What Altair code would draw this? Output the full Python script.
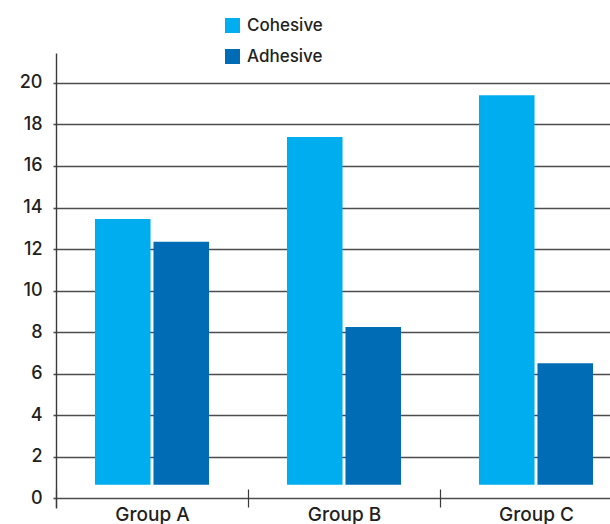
import altair as alt
import pandas as pd

# Category and series definitions
groups = ["Group A", "Group B", "Group C"]
series = ["Cohesive", "Adhesive"]
series_colors = ["#00AEEF", "#006CB5"]

# Bar heights per group
cohesive = [13.45, 17.4, 19.4]
adhesive = [12.35, 8.25, 6.5]

# Bars rise from a small common base rather than from zero
bar_base = 0.65

# Y axis tick values
y_ticks = [0, 2, 4, 6, 8, 10, 12, 14, 16, 18, 20]

rows = []
for g, c, a in zip(groups, cohesive, adhesive):
    rows.append({"group": g, "series": "Cohesive", "value": c, "base": bar_base})
    rows.append({"group": g, "series": "Adhesive", "value": a, "base": bar_base})
df = pd.DataFrame(rows)

FONT = "Inter"
WEIGHT = 500
TEXT = "#231F20"
GRID = "#4D4D4D"

chart = alt.Chart(df).mark_bar().encode(
    x=alt.X(
        "group:N",
        sort=groups,
        scale=alt.Scale(range=[0, 576], paddingInner=0, paddingOuter=0),
        axis=alt.Axis(
            title=None,
            domain=False,
            tickBand="extent",
            offset=-19,
            tickSize=18,
            tickColor="#3A3A3A",
            tickWidth=1.2,
            labelPadding=-2,
            labelAngle=0,
            labelFont=FONT,
            labelFontWeight=WEIGHT,
            labelFontSize=19,
            labelColor=TEXT,
        ),
    ),
    xOffset=alt.XOffset(
        "series:N",
        sort=series,
        scale=alt.Scale(paddingInner=0.05, paddingOuter=0.667),
    ),
    y=alt.Y(
        "value:Q",
        scale=alt.Scale(domain=[-0.47, 21.44], nice=False, zero=False),
        axis=alt.Axis(
            title=None,
            values=y_ticks,
            grid=True,
            gridColor=GRID,
            gridWidth=1.6,
            tickSize=3,
            tickColor=GRID,
            tickWidth=1.6,
            domainColor="#3A3A3A",
            domainWidth=1.4,
            labelPadding=11,
            labelFont=FONT,
            labelFontWeight=WEIGHT,
            labelFontSize=18,
            labelColor=TEXT,
        ),
    ),
    y2="base:Q",
    color=alt.Color(
        "series:N",
        sort=series,
        scale=alt.Scale(domain=series, range=series_colors),
        legend=alt.Legend(
            title=None,
            orient="none",
            legendX=168,
            legendY=-36,
            padding=0,
            symbolType="square",
            symbolSize=225,
            symbolStrokeWidth=0,
            symbolOpacity=1,
            rowPadding=13,
            labelOffset=6,
            labelFont=FONT,
            labelFontWeight=WEIGHT,
            labelFontSize=17,
            labelColor=TEXT,
        ),
    ),
).properties(
    width=554,
    height=455,
    autosize=alt.AutoSizeParams(type="none"),
    padding={"left": 56, "top": 53, "right": 0, "bottom": 16},
).configure(
    background="white"
).configure_view(
    stroke="transparent",
    strokeWidth=0,
)

chart.save("out.html", embed_options={"renderer": "svg", "actions": False})
